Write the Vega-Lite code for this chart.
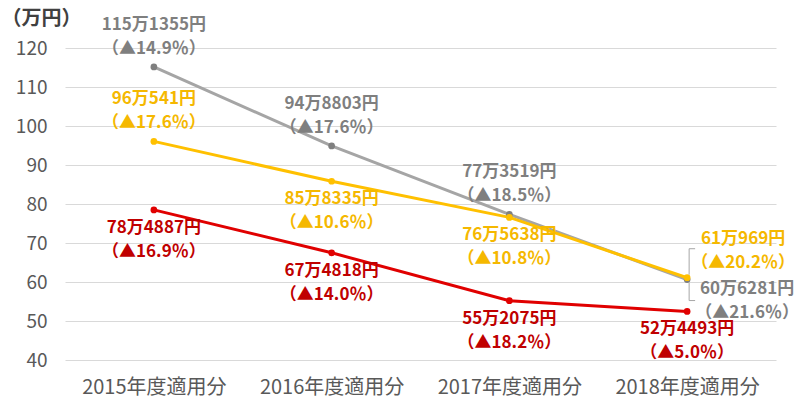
{
  "$schema": "https://vega.github.io/schema/vega-lite/v6.json",
  "autosize": {"type": "none"},
  "width": 711,
  "height": 312,
  "padding": {"left": 65, "top": 48, "right": 24, "bottom": 60},
  "background": "white",
  "config": {
    "font": "Noto Sans CJK JP",
    "view": {"stroke": null}
  },
  "data": {
    "values": [
      {"year": "2015年度適用分", "series": "gray", "value": 115.1355, "amount": "115万1355円", "change": "▲14.9％"},
      {"year": "2016年度適用分", "series": "gray", "value": 94.8803, "amount": "94万8803円", "change": "▲17.6％"},
      {"year": "2017年度適用分", "series": "gray", "value": 77.3519, "amount": "77万3519円", "change": "▲18.5％"},
      {"year": "2018年度適用分", "series": "gray", "value": 60.6281, "amount": "60万6281円", "change": "▲21.6％"},
      {"year": "2015年度適用分", "series": "yellow", "value": 96.0541, "amount": "96万541円", "change": "▲17.6％"},
      {"year": "2016年度適用分", "series": "yellow", "value": 85.8335, "amount": "85万8335円", "change": "▲10.6％"},
      {"year": "2017年度適用分", "series": "yellow", "value": 76.5638, "amount": "76万5638円", "change": "▲10.8％"},
      {"year": "2018年度適用分", "series": "yellow", "value": 61.0969, "amount": "61万969円", "change": "▲20.2％"},
      {"year": "2015年度適用分", "series": "red", "value": 78.4887, "amount": "78万4887円", "change": "▲16.9％"},
      {"year": "2016年度適用分", "series": "red", "value": 67.4818, "amount": "67万4818円", "change": "▲14.0％"},
      {"year": "2017年度適用分", "series": "red", "value": 55.2075, "amount": "55万2075円", "change": "▲18.2％"},
      {"year": "2018年度適用分", "series": "red", "value": 52.4493, "amount": "52万4493円", "change": "▲5.0％"}
    ]
  },
  "transform": [
    {"calculate": "datum.amount + '\\n（' + datum.change + '）'", "as": "label"}
  ],
  "encoding": {
    "x": {
      "field": "year",
      "type": "ordinal",
      "sort": null,
      "scale": {"type": "point", "padding": 0.5},
      "axis": {
        "title": null,
        "domain": false,
        "ticks": false,
        "labelAngle": 0,
        "labelFontSize": 20,
        "labelColor": "#595959",
        "labelPadding": 17
      }
    },
    "y": {
      "field": "value",
      "type": "quantitative",
      "scale": {"domain": [40, 120]},
      "axis": {
        "title": "（万円）",
        "titleAngle": 0,
        "titleAlign": "left",
        "titleBaseline": "middle",
        "titleX": -64,
        "titleY": -30,
        "titleFontSize": 20,
        "titleFontWeight": "bold",
        "titleColor": "#404040",
        "values": [40, 50, 60, 70, 80, 90, 100, 110, 120],
        "domain": false,
        "ticks": false,
        "labelFontSize": 19,
        "labelColor": "#595959",
        "labelPadding": 18,
        "gridColor": "#d9d9d9",
        "gridWidth": 1
      }
    },
    "color": {
      "field": "series",
      "type": "nominal",
      "scale": {"domain": ["gray", "yellow", "red"], "range": ["#a5a5a5", "#ffc000", "#e00000"]},
      "legend": null
    }
  },
  "layer": [
    {"mark": {"type": "line", "strokeWidth": 3}},
    {
      "mark": {"type": "point", "filled": true, "size": 45, "opacity": 1},
      "encoding": {
        "color": {
          "field": "series",
          "type": "nominal",
          "scale": {"domain": ["gray", "yellow", "red"], "range": ["#7f7f7f", "#ffc000", "#e00000"]},
          "legend": null
        }
      }
    },
    {
      "transform": [{"filter": "datum.series == 'yellow' && datum.year == '2018年度適用分'"}],
      "mark": {"type": "rule", "color": "#a6a6a6", "strokeWidth": 1, "xOffset": 2, "x2Offset": 2, "yOffset": -29, "y2Offset": -3},
      "encoding": {"y2": {"field": "value"}, "color": {"value": "#a6a6a6"}}
    },
    {
      "transform": [{"filter": "datum.series == 'yellow' && datum.year == '2018年度適用分'"}],
      "mark": {"type": "rule", "color": "#a6a6a6", "strokeWidth": 1, "xOffset": 2, "x2Offset": 8, "yOffset": -29, "y2Offset": -29},
      "encoding": {"x2": {"field": "year"}, "y2": {"field": "value"}, "color": {"value": "#a6a6a6"}}
    },
    {
      "transform": [{"filter": "datum.series == 'gray' && datum.year == '2018年度適用分'"}],
      "mark": {"type": "rule", "color": "#a6a6a6", "strokeWidth": 1, "xOffset": 2, "x2Offset": 2, "yOffset": 3, "y2Offset": 21},
      "encoding": {"y2": {"field": "value"}, "color": {"value": "#a6a6a6"}}
    },
    {
      "transform": [{"filter": "datum.series == 'gray' && datum.year == '2018年度適用分'"}],
      "mark": {"type": "rule", "color": "#a6a6a6", "strokeWidth": 1, "xOffset": 2, "x2Offset": 8, "yOffset": 21, "y2Offset": 21},
      "encoding": {"x2": {"field": "year"}, "y2": {"field": "value"}, "color": {"value": "#a6a6a6"}}
    },
    {
      "transform": [{"filter": "datum.series == 'gray' && datum.year != '2018年度適用分' || datum.series == 'yellow' && datum.year == '2015年度適用分'"}],
      "mark": {"type": "text", "lineBreak": "\n", "lineHeight": 24, "fontSize": 17, "fontWeight": "bold", "baseline": "middle", "dy": -42},
      "encoding": {
        "text": {"field": "label"},
        "color": {
          "field": "series",
          "type": "nominal",
          "scale": {"domain": ["gray", "yellow", "red"], "range": ["#7f7f7f", "#f5b800", "#c00000"]},
          "legend": null
        }
      }
    },
    {
      "transform": [{"filter": "datum.series == 'red' || datum.series == 'yellow' && (datum.year == '2016年度適用分' || datum.year == '2017年度適用分')"}],
      "mark": {"type": "text", "lineBreak": "\n", "lineHeight": 24, "fontSize": 17, "fontWeight": "bold", "baseline": "middle", "dy": 18},
      "encoding": {
        "text": {"field": "label"},
        "color": {
          "field": "series",
          "type": "nominal",
          "scale": {"domain": ["gray", "yellow", "red"], "range": ["#7f7f7f", "#f5b800", "#c00000"]},
          "legend": null
        }
      }
    },
    {
      "transform": [{"filter": "datum.series == 'yellow' && datum.year == '2018年度適用分'"}],
      "mark": {"type": "text", "lineBreak": "\n", "lineHeight": 24, "fontSize": 17, "fontWeight": "bold", "baseline": "middle", "dx": 56, "dy": -39},
      "encoding": {
        "text": {"field": "label"},
        "color": {"value": "#f5b800"}
      }
    },
    {
      "transform": [{"filter": "datum.series == 'gray' && datum.year == '2018年度適用分'"}],
      "mark": {"type": "text", "lineBreak": "\n", "lineHeight": 24, "fontSize": 17, "fontWeight": "bold", "baseline": "middle", "dx": 60, "dy": 9},
      "encoding": {
        "text": {"field": "label"},
        "color": {"value": "#7f7f7f"}
      }
    }
  ],
  "resolve": {"scale": {"color": "independent"}}
}
